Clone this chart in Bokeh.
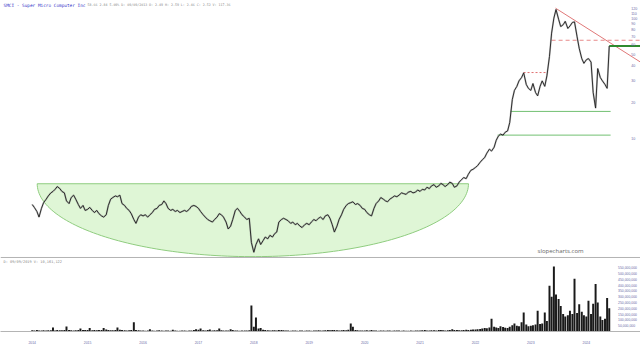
import numpy as np
import pandas as pd
from bokeh.plotting import figure
from bokeh.layouts import column
from bokeh.models import (ColumnDataSource, FixedTicker, LinearAxis, LogAxis, Span, Label,
                          NumeralTickFormatter, DatetimeTickFormatter, Range1d)
from bokeh.embed import file_html
from bokeh.resources import INLINE

# ---------------- texts ----------------
symbol_title = "SMCI - Super Micro Computer Inc"
quote_line = "58.66 2.84 5.09% D: 09/09/2013 O: 2.49 H: 2.59 L: 2.46 C: 2.52 V: 117.36"
volume_line = "D: 09/09/2019 V: 10,161,122"
site_mark = "slopecharts.com"

# ---------------- data (semi-monthly samples, 1st and 15th, from first_date) ----------------
first_date = "2014-10-01"
close_y1 = [2.8, 2.65, 2.45, 2.2, 2.6, 2.9, 3.1, 3.3, 3.5, 3.6, 3.75, 3.95, 3.8, 3.6, 3.5, 3.0, 2.85, 3.2, 3.35, 3.1, 2.8, 2.6, 2.75, 2.5]
close_y2 = [2.55, 2.65, 2.5, 2.4, 2.5, 2.35, 2.25, 2.2, 2.3, 2.75, 3.1, 3.2, 3.3, 3.25, 3.35, 2.85, 2.75, 2.6, 2.5, 2.35, 2.1, 1.95, 2.2, 2.3]
close_y3 = [2.25, 2.3, 2.2, 2.3, 2.4, 2.55, 2.6, 2.75, 2.8, 3.0, 2.85, 2.6, 2.5, 2.55, 2.45, 2.5, 2.4, 2.45, 2.5, 2.45, 2.55, 2.7, 2.75, 2.7]
close_y4 = [2.6, 2.45, 2.3, 2.2, 2.1, 2.05, 2.0, 2.1, 2.2, 2.35, 2.3, 2.2, 2.0, 1.75, 1.85, 2.1, 2.5, 2.6, 2.45, 2.3, 2.2, 2.1, 2.15, 1.35]
close_y5 = [1.12, 1.3, 1.45, 1.3, 1.4, 1.5, 1.45, 1.55, 1.5, 1.6, 1.65, 2.0, 2.1, 2.15, 2.1, 2.05, 1.95, 2.0, 1.9, 1.95, 1.85, 1.8, 1.9, 1.95]
close_y6 = [1.9, 2.0, 2.1, 2.05, 2.15, 2.2, 2.1, 2.25, 2.3, 2.15, 1.9, 1.65, 1.85, 2.1, 2.3, 2.55, 2.75, 2.85, 2.9, 2.95, 2.8, 2.85, 2.75, 2.6]
close_y7 = [2.55, 2.4, 2.3, 2.25, 2.6, 2.85, 3.0, 3.2, 3.1, 3.0, 2.95, 3.1, 3.2, 3.3, 3.25, 3.35, 3.5, 3.45, 3.4, 3.55, 3.6, 3.5, 3.55, 3.7]
close_y8 = [3.6, 3.75, 3.7, 3.9, 3.8, 4.0, 4.1, 3.9, 4.0, 4.2, 4.1, 3.95, 4.1, 4.3, 4.2, 3.9, 4.0, 4.3, 4.5, 4.7, 4.6, 5.0, 5.4, 5.5]
close_y9 = [5.7, 5.9, 6.3, 6.6, 6.9, 7.5, 8.1, 7.8, 8.4, 9.6, 10.4, 10.8, 10.6, 11.2, 11.5, 13.5, 21, 25, 27, 30, 32, 35, 28, 26]
close_y10 = [25, 28.5, 24, 22.5, 27, 30, 27, 33, 48, 75, 100, 118, 98, 85, 88, 94, 82, 86, 92, 93, 70, 56, 46, 42]
close_y11 = [45, 46, 43, 24, 17.8, 38, 32, 30, 28, 26, 58.66]

vol_y1 = [10, 8, 12, 9, 8, 10, 9, 11, 10, 35, 9, 12, 10, 11, 14, 43, 12, 10, 9, 11, 13, 25, 12, 14]
vol_y2 = [12, 30, 11, 13, 10, 12, 14, 30, 18, 12, 11, 10, 13, 35, 16, 12, 10, 9, 11, 12, 80, 14, 10, 9]
vol_y3 = [8, 7, 9, 20, 8, 7, 9, 10, 8, 7, 9, 8, 7, 15, 8, 7, 6, 8, 9, 7, 8, 9, 12, 20]
vol_y4 = [15, 25, 10, 9, 12, 18, 9, 10, 11, 25, 10, 8, 9, 9, 20, 12, 9, 8, 7, 8, 9, 8, 10, 225]
vol_y5 = [40, 120, 25, 30, 15, 12, 10, 9, 11, 10, 9, 12, 14, 10, 9, 8, 7, 8, 9, 7, 8, 9, 7, 8]
vol_y6 = [8, 7, 9, 8, 10, 9, 8, 11, 12, 10, 14, 12, 10, 9, 11, 12, 10, 15, 70, 40, 12, 10, 9, 8]
vol_y7 = [9, 10, 8, 12, 9, 8, 7, 9, 8, 7, 8, 9, 7, 8, 9, 8, 7, 8, 6, 7, 8, 7, 8, 9]
vol_y8 = [9, 10, 12, 9, 8, 11, 10, 9, 12, 14, 10, 9, 11, 12, 20, 14, 12, 10, 11, 13, 15, 14, 16, 18]
vol_y9 = [18, 20, 22, 25, 30, 28, 35, 110, 40, 35, 30, 45, 38, 32, 30, 40, 55, 70, 50, 45, 80, 165, 60, 45]
vol_y10 = [50, 55, 60, 180, 65, 70, 165, 90, 395, 300, 560, 320, 280, 220, 150, 130, 140, 180, 150, 455, 160, 235, 170, 140]
vol_y11 = [130, 265, 150, 240, 410, 250, 130, 100, 110, 290, 200]

year_tick_dates = ["2014-10-01", "2015-10-01", "2016-10-01", "2017-10-01", "2018-10-01", "2019-10-01",
                   "2020-10-01", "2021-10-01", "2022-10-01", "2023-10-01", "2024-10-01"]
year_tick_labels = ["2014", "2015", "2016", "2017", "2018", "2019", "2020", "2021", "2022", "2023", "2024"]
price_ticks = [10, 20, 30, 40, 50, 60, 70, 80, 90, 100, 110, 120]
volume_ticks = [50e6, 100e6, 150e6, 200e6, 250e6, 300e6, 350e6, 400e6, 450e6, 500e6, 550e6]

# drawn levels / pattern
bowl_start, bowl_end, bowl_rim, bowl_floor = "2014-11-03", "2022-08-16", 4.17, 1.03
resist_start, resist_end, resist_level = "2023-08-14", "2024-01-19", 35.2
stop_start, stop_level = "2024-02-15", 65.4
peak_date, peak_price = "2024-03-12", 121.0
trend_end_date, trend_end_price = "2025-09-23", 43.0
last_date, last_price = "2025-03-01", 58.66
support_hi_start, support_hi = "2023-05-20", 16.7
support_lo_start, support_lo = "2023-02-24", 10.6
support_end = "2025-03-10"

# view window
view_start, view_end = "2014-03-06", "2025-09-23"
price_lo, price_hi = 0.994, 140.2
vol_hi = 630e6
price_axis_at, volume_axis_at = "2025-05-25", "2025-02-28"


def ms(s):
    return pd.Timestamp(s).value / 1e6


close = close_y1 + close_y2 + close_y3 + close_y4 + close_y5 + close_y6 + close_y7 + close_y8 + close_y9 + close_y10 + close_y11
vol_m = vol_y1 + vol_y2 + vol_y3 + vol_y4 + vol_y5 + vol_y6 + vol_y7 + vol_y8 + vol_y9 + vol_y10 + vol_y11
dates = pd.date_range(first_date, periods=len(close), freq="SMS")
src = ColumnDataSource(dict(date=dates, close=close, vol=[v * 1e6 for v in vol_m]))

LABEL_COLOR = "#6a6aa8"
xr = Range1d(ms(view_start), ms(view_end))

# ---------------- price panel ----------------
p = figure(frame_width=640, frame_height=258, x_axis_type="datetime", y_axis_type="log",
           x_range=xr, y_range=Range1d(price_lo, price_hi),
           x_axis_location=None, y_axis_location=None,
           toolbar_location=None, output_backend="svg", min_border=0,
           outline_line_color=None, background_fill_color="white", border_fill_color="white")
p.grid.visible = False

# rounded-bottom (bowl) pattern: half ellipse in log-price space
t = np.linspace(0, np.pi, 120)
cx = (ms(bowl_start) + ms(bowl_end)) / 2
ax_half = (ms(bowl_end) - ms(bowl_start)) / 2
lr, lf = np.log10(bowl_rim), np.log10(bowl_floor)
bx = cx - ax_half * np.cos(t)
by = 10 ** (lr - (lr - lf) * np.sin(t))
p.patch(bx, by, fill_color="#dff6d6", fill_alpha=1.0, line_color="#8fcc7f", line_width=1)

# support / resistance lines
p.line([ms(support_hi_start), ms(support_end)], [support_hi, support_hi], line_color="#72c072", line_width=1)
p.line([ms(support_lo_start), ms(support_end)], [support_lo, support_lo], line_color="#72c072", line_width=1)
p.line([ms(resist_start), ms(resist_end)], [resist_level, resist_level], line_color="#e07070", line_width=1, line_dash="2 2")
p.line([ms(stop_start), ms(view_end)], [stop_level, stop_level], line_color="#e88a8a", line_width=1, line_dash="4 3")
p.line([ms(peak_date), ms(trend_end_date)], [peak_price, trend_end_price], line_color="#e07878", line_width=1)
p.line([ms(last_date), ms(view_end)], [last_price, last_price], line_color="#2e8b2e", line_width=2)

# price series (soft halo + dark core to mimic dense daily bars)
p.line("date", "close", source=src, line_color="#8a8a8a", line_width=1.8, line_alpha=0.5)
p.line("date", "close", source=src, line_color="#1e1e1e", line_width=0.9)

sep = Span(location=1.0135, dimension="width", line_color="#b4b4b4", line_width=1)
p.add_layout(sep)

yax = LogAxis(fixed_location=ms(price_axis_at), ticker=FixedTicker(ticks=price_ticks),
              formatter=NumeralTickFormatter(format="0"),
              axis_line_color=None, major_tick_line_color=None, minor_tick_line_color=None,
              major_label_text_font_size="3.6px", major_label_text_color=LABEL_COLOR,
              major_label_standoff=3)
p.add_layout(yax, "right")

p.add_layout(Label(x=ms("2014-03-26"), y=127.6, text=symbol_title, text_font="DejaVu Sans Mono",
                   text_font_size="4.4px", text_color="#3535c8", text_baseline="middle"))
p.add_layout(Label(x=ms("2015-10-01"), y=127.6, text=quote_line, text_font="DejaVu Sans Mono",
                   text_font_size="3.3px", text_color="#8a8a8a", text_baseline="middle"))
p.add_layout(Label(x=ms("2024-04-14"), y=1.14, text=site_mark, text_font="Open Sans",
                   text_font_size="6px", text_color="#666666", text_align="center",
                   text_baseline="middle"))

# ---------------- volume panel ----------------
v = figure(frame_width=640, frame_height=73, x_axis_type="datetime",
           x_range=xr, y_range=Range1d(0, vol_hi),
           x_axis_location=None, y_axis_location=None,
           toolbar_location=None, output_backend="svg", min_border=0, min_border_bottom=13,
           outline_line_color=None, background_fill_color="white", border_fill_color="white")
v.grid.visible = False
v.vbar(x="date", top="vol", source=src, width=13 * 86400000, fill_color="#1a1a1a",
       line_color=None)

tick_ms = [int(ms(d)) for d in year_tick_dates]
xax = LinearAxis(ticker=FixedTicker(ticks=tick_ms),
                 formatter=DatetimeTickFormatter(years="%Y", months="%Y", days="%Y"),
                 major_label_overrides={k: lab for k, lab in zip(tick_ms, year_tick_labels)},
                 axis_line_color="#b4b4b4", major_tick_line_color=None, minor_tick_line_color=None,
                 major_label_text_font_size="3.4px", major_label_text_color=LABEL_COLOR,
                 major_label_standoff=3)
v.add_layout(xax, "below")

vax = LinearAxis(fixed_location=ms(volume_axis_at), ticker=FixedTicker(ticks=volume_ticks),
                 formatter=NumeralTickFormatter(format="0,0"),
                 axis_line_color=None, major_tick_line_color=None, minor_tick_line_color=None,
                 major_label_text_font_size="3.4px", major_label_text_color=LABEL_COLOR,
                 major_label_standoff=3)
v.add_layout(vax, "right")

v.add_layout(Label(x=ms("2014-03-26"), y=vol_hi * 0.95, text=volume_line, text_font="DejaVu Sans Mono",
                   text_font_size="3.6px", text_color="#8a8a8a", text_baseline="middle"))

layout = column(p, v, spacing=0)
open("out.html", "w").write(file_html(layout, INLINE))
